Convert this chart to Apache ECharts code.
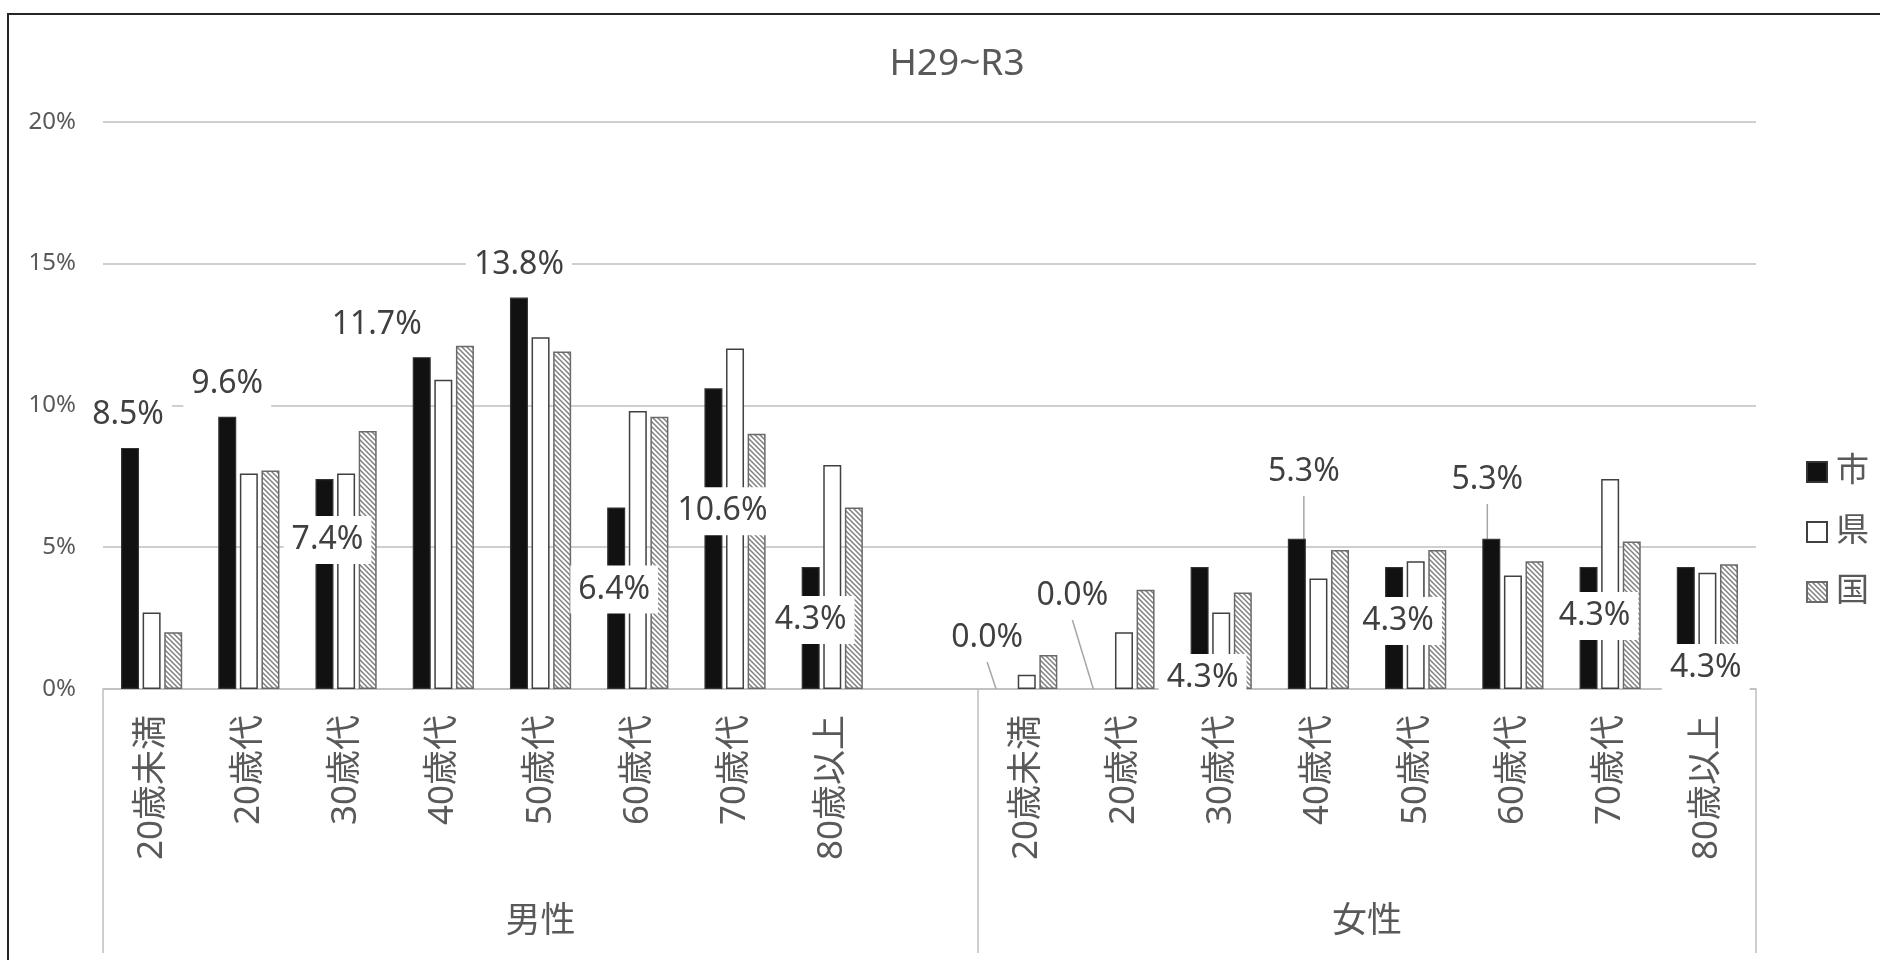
<!DOCTYPE html>
<html>
<head>
<meta charset="utf-8">
<script src="https://cdn.jsdelivr.net/npm/echarts@6/dist/echarts.min.js"></script>
<style>
  html, body { margin: 0; padding: 0; background: #fff; }
  #chart { width: 1880px; height: 960px; }
</style>
</head>
<body>
<div id="chart"></div>
<script>
var chart = echarts.init(document.getElementById('chart'), null, { renderer: 'canvas' });

// カテゴリ
var ageGroups = ['20歳未満', '20歳代', '30歳代', '40歳代', '50歳代', '60歳代', '70歳代', '80歳以上'];
var sexes = ['男性', '女性'];
var legendNames = ['市', '県', '国'];
var yTicks = [0, 5, 10, 15, 20];

// 値 (%)
var cityMale = [8.5, 9.6, 7.4, 11.7, 13.8, 6.4, 10.6, 4.3];
var cityFemale = [0.0, 0.0, 4.3, 5.3, 4.3, 5.3, 4.3, 4.3];
var prefMale = [2.7, 7.6, 7.6, 10.9, 12.4, 9.8, 12.0, 7.9];
var prefFemale = [0.5, 2.0, 2.7, 3.9, 4.5, 4.0, 7.4, 4.1];
var natMale = [2.0, 7.7, 9.1, 12.1, 11.9, 9.6, 9.0, 6.4];
var natFemale = [1.2, 3.5, 3.4, 4.9, 4.9, 4.5, 5.2, 4.4];

// 市のラベル位置 (棒の上端中央からのずらし量)
var cityLabelShift = [[-2, -33], [0, -33], [3, 61], [-45, -32], [0, -33], [-2, 82], [9, 123], [0, 53], null,
    [-18, -51], [-30, -93], [3, 111], [7, -67], [4, 54], [-4, -59], [6, 49], [20, 101]];
var cityLeader = [9, 10, 12, 14];

// 男性と女性の間に空き枠
var categories = ageGroups.concat([''], ageGroups);
function withGap(m, f) {
    return m.concat([null], f);
}
var groupSize = [ageGroups.length + 1, ageGroups.length];
var total = groupSize[0] + groupSize[1];

// 0の棒は枠線なし
function toItems(arr) {
    return arr.map(function (v) {
        if (v === 0) return { value: v, itemStyle: { borderWidth: 0 } };
        return v;
    });
}

// 斜線パターン
var hatch = document.createElement('canvas');
hatch.width = 5;
hatch.height = 5;
var ctx = hatch.getContext('2d');
ctx.fillStyle = '#fff';
ctx.fillRect(0, 0, 5, 5);
ctx.strokeStyle = '#808080';
ctx.lineWidth = 1.5;
ctx.beginPath();
ctx.moveTo(-1, -1); ctx.lineTo(6, 6);
ctx.moveTo(-1, 4); ctx.lineTo(1, 6);
ctx.moveTo(4, -1); ctx.lineTo(6, 1);
ctx.stroke();

var font = "'Noto Sans', 'Noto Sans CJK JP', sans-serif";

var cityData = withGap(cityMale, cityFemale).map(function (v, i) {
    if (v == null) return null;
    var item = {
        value: v,
        labelLine: { show: cityLeader.indexOf(i) >= 0 }
    };
    if (v === 0) item.itemStyle = { borderWidth: 0 };
    return item;
});

chart.setOption({
    animation: false,
    title: {
        text: 'H29~R3',
        left: 952,
        textAlign: 'center',
        top: 41,
        textStyle: { fontFamily: font, fontSize: 37, fontWeight: 'normal', color: '#595959' }
    },
    legend: {
        data: legendNames,
        orient: 'vertical',
        left: 1801,
        top: 450,
        icon: 'rect',
        itemWidth: 20,
        itemHeight: 20,
        itemGap: 26,
        textStyle: { fontFamily: font, fontSize: 33, lineHeight: 34, color: '#595959', padding: [0, 0, 0, 4] }
    },
    grid: {
        left: 103,
        right: 124,
        top: 121.7,
        bottom: 271,
        containLabel: false,
        outerBoundsMode: 'none'
    },
    xAxis: [
        {
            type: 'category',
            data: categories,
            axisLine: { lineStyle: { color: '#bfbfbf', width: 1.5 } },
            axisTick: { show: false },
            axisLabel: {
                interval: 0,
                rotate: 90,
                margin: 26,
                fontFamily: font,
                fontSize: 35,
                color: '#595959'
            }
        },
        {
            type: 'value',
            min: 0,
            max: total,
            position: 'bottom',
            axisLine: { show: false },
            axisTick: {
                show: true,
                customValues: [0, groupSize[0], total],
                length: 264,
                lineStyle: { color: '#bfbfbf', width: 1.5 }
            },
            splitLine: { show: false },
            axisLabel: {
                customValues: [groupSize[0] / 2, groupSize[0] + groupSize[1] / 2],
                margin: 216,
                fontFamily: font,
                fontSize: 35,
                color: '#595959',
                formatter: function (v) {
                    return v < groupSize[0] ? sexes[0] : sexes[1];
                }
            }
        }
    ],
    yAxis: {
        type: 'value',
        min: yTicks[0],
        max: yTicks[yTicks.length - 1],
        interval: 5,
        axisLine: { show: false },
        axisTick: { show: false },
        axisLabel: {
            formatter: '{value}%',
            margin: 27,
            fontFamily: font,
            fontSize: 24,
            color: '#595959'
        },
        splitLine: { lineStyle: { color: '#bfbfbf', width: 1.5 } }
    },
    series: [
        {
            name: legendNames[0],
            type: 'bar',
            z: 3,
            barWidth: 18,
            barGap: '20%',
            itemStyle: { color: '#111', borderColor: '#333', borderWidth: 1.2 },
            label: {
                show: true,
                position: 'top',
                distance: 0,
                formatter: function (p) { return p.value.toFixed(1) + '%'; },
                fontFamily: font,
                fontSize: 32,
                color: '#404040',
                backgroundColor: '#fff',
                padding: [8, 8]
            },
            labelLine: { show: false, lineStyle: { color: '#a6a6a6', width: 1.5 } },
            labelLayout: function (p) {
                var s = cityLabelShift[p.dataIndex];
                if (!s) return {};
                var cx = p.rect.x + p.rect.width / 2 + s[0];
                var cy = p.rect.y + s[1];
                return {
                    dx: cx - (p.labelRect.x + p.labelRect.width / 2),
                    dy: cy - (p.labelRect.y + p.labelRect.height / 2)
                };
            },
            data: cityData
        },
        {
            name: legendNames[1],
            type: 'bar',
            barWidth: 18,
            barGap: '20%',
            itemStyle: { color: '#fff', borderColor: '#404040', borderWidth: 1.5 },
            data: toItems(withGap(prefMale, prefFemale))
        },
        {
            name: legendNames[2],
            type: 'bar',
            barWidth: 18,
            barGap: '20%',
            itemStyle: { color: { image: hatch, repeat: 'repeat' }, borderColor: '#6a6a6a', borderWidth: 1.5 },
            data: toItems(withGap(natMale, natFemale))
        }
    ],
    graphic: [
        {
            type: 'polyline',
            silent: true,
            shape: { points: [[8, 980], [8, 14], [1900, 14]] },
            style: { stroke: '#262626', lineWidth: 2, fill: null }
        }
    ]
});
</script>
</body>
</html>
